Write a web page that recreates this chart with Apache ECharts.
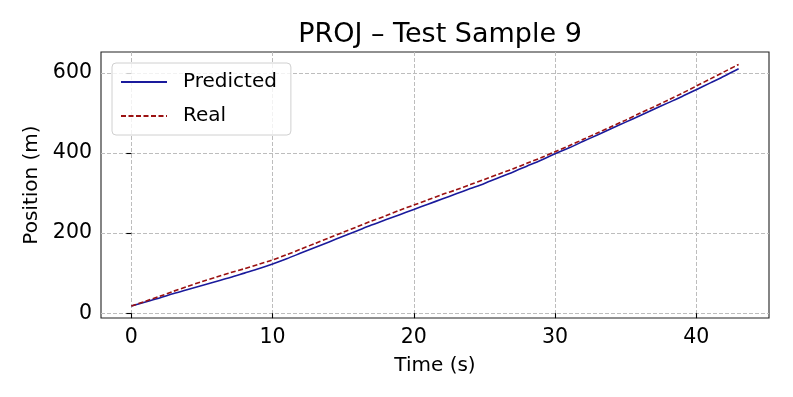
<!DOCTYPE html>
<html>
<head>
<meta charset="utf-8">
<script src="https://cdn.jsdelivr.net/npm/echarts@6/dist/echarts.min.js"></script>
<style>
  html, body { margin: 0; padding: 0; background: #fff; }
  #chart { width: 793px; height: 397px; }
</style>
</head>
<body>
<div id="chart"></div>
<script>
// time in seconds
const times = [0,1,2,3,4,5,6,7,8,9,10,11,12,13,14,15,16,17,18,19,20,21,22,23,24,25,26,27,28,29,30,31,32,33,34,35,36,37,38,39,40,41,42,43];
// predicted position (m)
const predicted = [18,28,38,49,59,69,79,89,100,111,123,136,150,164,178,192,206,220,233,246,259,272,285,298,311,324,338,352,367,382,398,413,429,445,461,477,493,509,525,541,558,575,592,610];
// real position (m)
const real = [18,30,42,55,67,79,90,101,111,122,133,146,160,174,188,202,216,230,243,257,270,283,296,308,321,334,347,360,374,388,403,418,434,450,466,482,499,515,532,549,567,585,603,621];
const xTicks = [0,10,20,30,40];
const yTicks = [0,200,400,600];

const font = 'DejaVu Sans';
const chart = echarts.init(document.getElementById('chart'));

const pair = (xs, ys) => xs.map((x, i) => [x, ys[i]]);

const option = {
  animation: false,
  backgroundColor: '#fff',
  title: {
    text: 'PROJ – Test Sample 9',
    left: 435,
    textAlign: 'center',
    top: 16,
    textStyle: { fontFamily: font, fontSize: 27, fontWeight: 'normal', color: '#000' }
  },
  legend: {
    orient: 'vertical',
    left: 112,
    top: 63,
    padding: [9, 14, 9, 8],
    itemWidth: 46,
    itemHeight: 14,
    itemGap: 14,
    backgroundColor: 'rgba(255,255,255,0.8)',
    borderColor: '#d0d0d0',
    borderWidth: 1,
    borderRadius: 4,
    itemStyle: { opacity: 0 },
    textStyle: { fontFamily: font, fontSize: 20, color: '#000', padding: [0, 0, 0, 11] },
    data: ['Predicted', 'Real']
  },
  grid: {
    left: 101, right: 24, top: 52, bottom: 79,
    show: true, borderColor: '#222', borderWidth: 1.1, backgroundColor: 'transparent'
  },
  xAxis: {
    type: 'value',
    min: -2.15,
    max: 45.15,
    name: 'Time (s)',
    nameLocation: 'middle',
    nameGap: 38,
    nameTextStyle: { fontFamily: font, fontSize: 20, color: '#000' },
    axisLine: { show: false },
    axisTick: { show: true, length: 5, customValues: xTicks, lineStyle: { color: '#000', width: 1.1 } },
    axisLabel: { customValues: xTicks, margin: 9, fontFamily: font, fontSize: 20.5, color: '#000' },
    splitLine: { show: true, lineStyle: { color: '#bdbdbd', type: [4, 2], width: 1 } }
  },
  yAxis: {
    type: 'value',
    min: -12,
    max: 652,
    name: 'Position (m)',
    nameLocation: 'middle',
    nameGap: 58,
    nameTextStyle: { fontFamily: font, fontSize: 20, color: '#000' },
    axisLine: { show: false },
    axisTick: { show: true, length: 5, customValues: yTicks, lineStyle: { color: '#000', width: 1.1 } },
    axisLabel: { customValues: yTicks, margin: 9, fontFamily: font, fontSize: 20.5, color: '#000' },
    splitLine: { show: true, lineStyle: { color: '#bdbdbd', type: [4, 2], width: 1 } }
  },
  series: [
    {
      name: 'Predicted',
      type: 'line',
      symbol: 'none',
      smooth: 0.3,
      color: '#1a1a9c',
      lineStyle: { color: '#1a1a9c', width: 1.6 },
      data: pair(times, predicted)
    },
    {
      name: 'Real',
      type: 'line',
      symbol: 'none',
      smooth: 0.3,
      color: '#9b1111',
      lineStyle: { color: '#9b1111', width: 1.6, type: [5, 2.5] },
      data: pair(times, real)
    }
  ]
};

chart.setOption(option);
</script>
</body>
</html>
